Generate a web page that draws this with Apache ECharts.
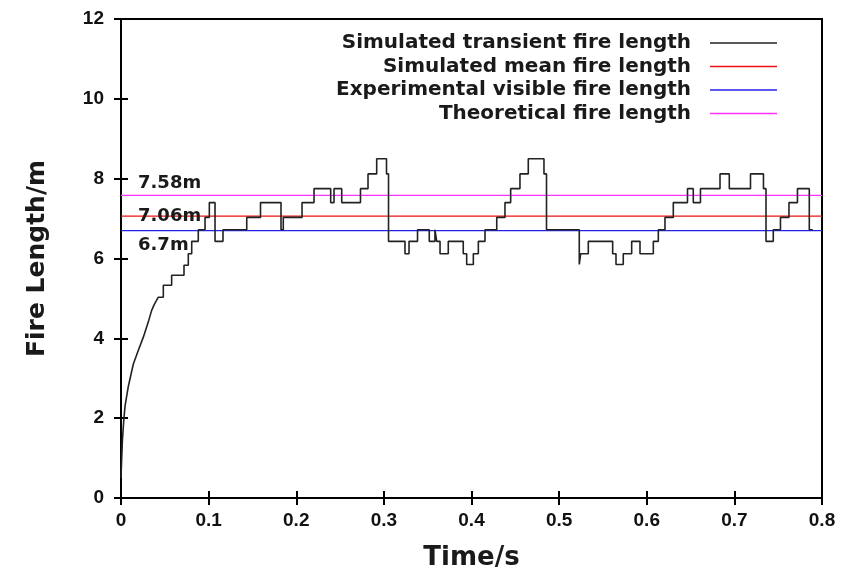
<!DOCTYPE html>
<html>
<head>
<meta charset="utf-8">
<script src="https://cdn.jsdelivr.net/npm/echarts@6/dist/echarts.min.js"></script>
<style>
    html, body { margin: 0; padding: 0; background: #fff; }
    #chart { width: 845px; height: 578px; }
</style>
</head>
<body>
<div id="chart"></div>
<script>
// smooth early rise of the transient fire length
const riseTime = [0, 0.0015, 0.003, 0.0046, 0.0084, 0.014, 0.0198, 0.0255, 0.031, 0.035, 0.038];
const riseLen = [0.5, 1.4, 1.9, 2.3, 2.8, 3.35, 3.7, 4.03, 4.4, 4.7, 4.85];

// stepped part: each level holds from stepTime[i] to stepTime[i + 1]
const stepTime = [0.0426, 0.0483, 0.0578, 0.0719, 0.0768, 0.0807, 0.0882, 0.0959, 0.1008, 0.1073,
    0.1164, 0.1435, 0.1592, 0.1826, 0.1852, 0.2066, 0.2203, 0.2393, 0.2431, 0.2519,
    0.2733, 0.2819, 0.2918, 0.3030, 0.3053, 0.3241, 0.3287, 0.3384, 0.3518, 0.3583,
    0.3603, 0.3641, 0.3735, 0.3906, 0.3945, 0.4021, 0.4078, 0.4154, 0.4288, 0.4382,
    0.4447, 0.4553, 0.4648, 0.4827, 0.4856, 0.5230, 0.5246, 0.5333, 0.5611, 0.5649,
    0.5732, 0.5828, 0.5923, 0.6075, 0.6132, 0.6208, 0.6303, 0.6465, 0.6531, 0.6613,
    0.6836, 0.6942, 0.7184, 0.7332, 0.7361, 0.7444, 0.7526, 0.7623, 0.7720, 0.7855];
const stepLen = [5.03, 5.33, 5.58, 5.83, 6.12, 6.43, 6.72, 7.03, 7.4, 6.43,
    6.72, 7.03, 7.4, 6.72, 7.03, 7.4, 7.75, 7.4, 7.75, 7.4,
    7.75, 8.12, 8.5, 8.12, 6.43, 6.12, 6.43, 6.72, 6.43, 6.72,
    6.43, 6.12, 6.43, 6.12, 5.85, 6.12, 6.43, 6.72, 7.03, 7.4,
    7.75, 8.12, 8.5, 8.12, 6.72, 5.85, 6.12, 6.43, 6.12, 5.85,
    6.12, 6.43, 6.12, 6.43, 6.72, 7.03, 7.4, 7.75, 7.4, 7.75,
    8.12, 7.75, 8.12, 7.75, 6.43, 6.72, 7.03, 7.4, 7.75, 6.72];
const stepEnd = 0.7894;

const meanLen = 7.06;
const visibleLen = 6.7;
const theoryLen = 7.58;
const timeRange = [0, 0.8];

const transient = [];
for (let i = 0; i < riseTime.length; i++) {
    transient.push([riseTime[i], riseLen[i]]);
}
for (let i = 0; i < stepTime.length; i++) {
    const next = i + 1 < stepTime.length ? stepTime[i + 1] : stepEnd;
    transient.push([stepTime[i], stepLen[i]]);
    transient.push([next, stepLen[i]]);
}

const boldFont = {
    fontFamily: 'DejaVu Sans',
    fontWeight: 'bold',
    color: '#1a1a1a',
};
const tickFont = {
    fontFamily: 'Arial, Liberation Sans, sans-serif',
    fontWeight: 'bold',
    fontSize: 19,
    color: '#111',
};

function flatLine(name, value, color, labelOffset) {
    return {
        name: name,
        type: 'line',
        symbol: 'circle',
        symbolSize: 0,
        showSymbol: true,
        silent: true,
        lineStyle: {color: color, width: 1.2},
        itemStyle: {color: color},
        data: [
            {
                value: [timeRange[0], value],
                label: Object.assign({
                    show: true,
                    formatter: value + 'm',
                    position: 'right',
                    align: 'left',
                    verticalAlign: 'middle',
                    distance: 0,
                    offset: labelOffset,
                    fontSize: 18,
                }, boldFont),
            },
            {value: [timeRange[1], value], label: {show: false}},
        ],
        z: 2,
    };
}

function frameAxis(extra) {
    return Object.assign({
        type: 'value',
        axisLine: {show: true, lineStyle: {color: '#000', width: 2}},
        axisTick: {show: true, inside: true, length: 7, lineStyle: {color: '#000', width: 2}},
        splitLine: {show: false},
    }, extra);
}

const chart = echarts.init(document.getElementById('chart'));
chart.setOption({
    animation: false,
    backgroundColor: '#fff',
    grid: {
        left: 121,
        right: 23,
        top: 19,
        bottom: 80,
        show: true,
        borderColor: '#000',
        borderWidth: 2,
    },
    legend: {
        orient: 'vertical',
        right: 63,
        top: 28,
        align: 'right',
        icon: 'rect',
        itemWidth: 67,
        itemHeight: 1.5,
        itemGap: 3.5,
        formatter: '{name}  ',
        textStyle: Object.assign({fontSize: 20}, boldFont),
        data: [
            'Simulated transient fire length',
            'Simulated mean fire length',
            'Experimental visible fire length',
            'Theoretical fire length',
        ],
    },
    xAxis: [
        frameAxis({
            min: 0,
            max: 0.8,
            interval: 0.1,
            name: 'Time/s',
            nameLocation: 'middle',
            nameGap: 47,
            nameTextStyle: Object.assign({fontSize: 26}, boldFont),
            axisLabel: Object.assign({
                margin: 13,
                formatter: (v) => String(Math.round(v * 10) / 10),
            }, tickFont),
        }),
        frameAxis({
            position: 'top',
            min: 0,
            max: 0.8,
            interval: 0.1,
            axisLabel: {show: false},
        }),
    ],
    yAxis: [
        frameAxis({
            min: 0,
            max: 12,
            interval: 2,
            name: 'Fire Length/m',
            nameLocation: 'middle',
            nameGap: 71,
            nameTextStyle: Object.assign({fontSize: 25}, boldFont),
            axisLabel: Object.assign({margin: 17}, tickFont),
        }),
        frameAxis({
            position: 'right',
            min: 0,
            max: 12,
            interval: 2,
            axisLabel: {show: false},
        }),
    ],
    series: [
        {
            name: 'Simulated transient fire length',
            type: 'line',
            symbol: 'none',
            silent: true,
            lineStyle: {color: '#222', width: 1.6},
            itemStyle: {color: '#222'},
            data: transient,
            z: 3,
        },
        flatLine('Simulated mean fire length', meanLen, '#ee1111', [17, 0]),
        flatLine('Experimental visible fire length', visibleLen, '#2222ee', [17, 15]),
        flatLine('Theoretical fire length', theoryLen, '#ff33ff', [17, -12]),
    ],
});
</script>
</body>
</html>
